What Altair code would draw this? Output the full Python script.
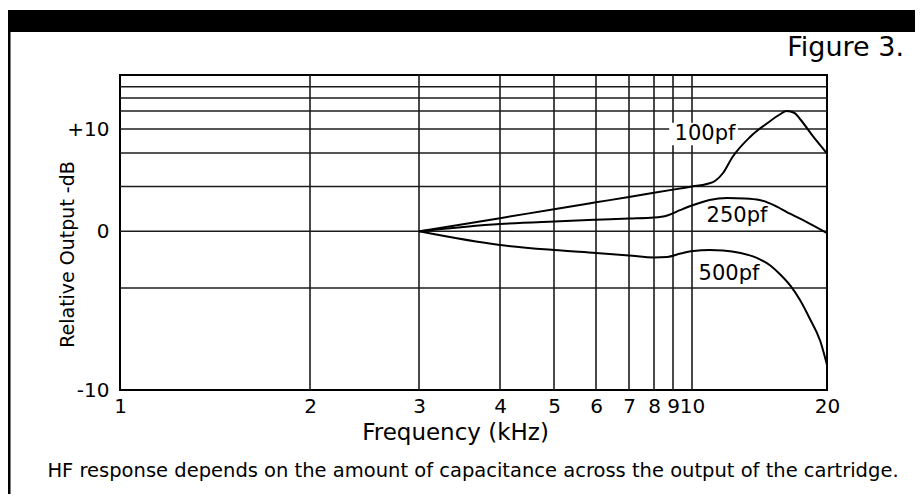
import altair as alt
import pandas as pd

# ---- data ----
freq_ticks = [1, 2, 3, 4, 5, 6, 7, 8, 9, 10, 20]
db_grid = [-10, -5, 0, 3, 6, 10, 12, 14, 16, 18]
db_labels = [-10, 0, 10]

freq_100 = [3, 4, 5, 6, 7, 8, 9, 10, 11.1, 11.7, 12.3, 13.0, 14.3, 15.6, 16.5, 17.0, 17.6, 18.0, 19.0, 19.9, 20]
db_100 = [0, 0.88, 1.48, 1.94, 2.30, 2.58, 2.79, 3.0, 3.22, 3.49, 4.21, 5.64, 8.67, 10.67, 11.61, 12.0, 11.78, 11.11, 8.67, 6.17, 5.94]

freq_250 = [3, 4, 5, 6, 7, 8, 8.7, 9.4, 10.1, 11.3, 12.6, 13.9, 15.0, 16.2, 17.3, 18.5, 20]
db_250 = [0, 0.49, 0.66, 0.77, 0.85, 0.92, 1.06, 1.43, 1.76, 2.10, 2.23, 2.20, 2.10, 1.69, 1.16, 0.62, -0.15]

freq_500 = [3, 4, 5, 6, 7, 8, 8.7, 9.4, 10.1, 11.3, 12.3, 13.6, 14.8, 15.8, 16.5, 17.3, 18.0, 18.7, 19.5, 20]
db_500 = [0, -1.21, -1.65, -1.91, -2.13, -2.31, -2.27, -1.96, -1.74, -1.65, -1.69, -1.91, -2.35, -3.02, -3.77, -4.82, -5.59, -6.47, -7.60, -8.77]

series_names = ["100pf", "250pf", "500pf"]
label_freq = [10.96, 13.33, 12.74]
label_db = [9.17, 1.02, -3.77]

caption = "HF response depends on the amount of capacitance across the output of the cartridge."
fig_label = "Figure 3."

# ---- tables ----
rows = []
for name, fs, ds in zip(series_names, [freq_100, freq_250, freq_500], [db_100, db_250, db_500]):
    for f, d in zip(fs, ds):
        rows.append({"series": name, "freq": f, "db": d})
curves = pd.DataFrame(rows)
labels = pd.DataFrame({"label": series_names, "freq": label_freq, "db": label_db})
hgrid = pd.DataFrame({"db": db_grid[1:-1]})
vgrid = pd.DataFrame({"freq": freq_ticks[1:-1]})
label_bg = pd.DataFrame({"freq": [8.8], "freq2": [13.4], "db": [7.3], "db2": [10.7]})

W, H = 707, 315
FONT = "DejaVu Sans"

# non-uniform (piecewise) scales, as drawn on the original graph paper
xscale = alt.Scale(domain=freq_ticks, range=[0, 190, 299, 380, 434, 476, 509, 534, 553, 572, 707])
yscale = alt.Scale(domain=db_grid, range=[315, 213, 156.3, 111.5, 78, 54, 36, 23, 11.7, 0])

xaxis = alt.Axis(values=freq_ticks, title="Frequency (kHz)", grid=False, ticks=False, domain=False,
                 labelFont=FONT, labelFontSize=20, labelColor="black", labelPadding=6,
                 labelFlush=False, labelOverlap=False,
                 titleFont=FONT, titleFontSize=23, titleFontWeight="normal", titleColor="black",
                 titleX=335, titleY=42, titleBaseline="middle", titleAlign="center")
yaxis = alt.Axis(values=db_labels, grid=False, ticks=False, domain=False,
                 labelExpr="datum.value > 0 ? '+' + datum.value : '' + datum.value",
                 labelFont=FONT, labelFontSize=20, labelColor="black", labelPadding=11,
                 labelFlush=False, labelOverlap=False, labelBaseline="middle",
                 title="Relative Output -dB", titleFont=FONT, titleFontSize=19,
                 titleFontWeight="normal", titleColor="black", titleAngle=-90,
                 titleX=-53, titleY=179, titleBaseline="middle", titleAlign="center")

X = lambda: alt.X("freq:Q", scale=xscale, axis=xaxis)
Y = lambda: alt.Y("db:Q", scale=yscale, axis=yaxis)

h_rules = alt.Chart(hgrid).mark_rule(color="#1c1c1c", strokeWidth=1.6).encode(y=Y())
v_rules = alt.Chart(vgrid).mark_rule(color="#1c1c1c", strokeWidth=1.6).encode(x=X())
bg = alt.Chart(label_bg).mark_rect(color="white").encode(x=X(), x2="freq2:Q", y=Y(), y2="db2:Q")
lines = alt.Chart(curves).mark_line(color="black", strokeWidth=2, interpolate="monotone").encode(
    x=X(), y=Y(), detail="series:N")
texts = alt.Chart(labels).mark_text(font=FONT, fontSize=21, color="black").encode(
    x=X(), y=Y(), text="label:N")

band = alt.Chart(pd.DataFrame({"k": [0]})).mark_rect(color="black").encode(
    x=alt.value(-112), x2=alt.value(795), y=alt.value(-65), y2=alt.value(-43))
border = alt.Chart(pd.DataFrame({"k": [0]})).mark_rule(color="black", strokeWidth=3).encode(
    x=alt.value(-111), y=alt.value(-44), y2=alt.value(419))
fig_txt = alt.Chart(pd.DataFrame({"t": [fig_label]})).mark_text(
    font=FONT, fontSize=27, color="black", align="right", baseline="middle").encode(
    x=alt.value(784), y=alt.value(-27), text="t:N")
cap_txt = alt.Chart(pd.DataFrame({"t": [caption]})).mark_text(
    font=FONT, fontSize=19.5, color="black", align="center", baseline="middle").encode(
    x=alt.value(353), y=alt.value(396), text="t:N")

chart = alt.layer(h_rules, v_rules, bg, lines, texts, band, border, fig_txt, cap_txt).properties(
    width=W, height=H,
    padding={"left": 112, "top": 67, "right": 88, "bottom": 104},
    autosize=alt.AutoSizeParams(type="none"),
    background="white",
).configure_view(stroke="black", strokeWidth=2)

chart.save("out.html", embed_options={"renderer": "svg", "actions": False})
